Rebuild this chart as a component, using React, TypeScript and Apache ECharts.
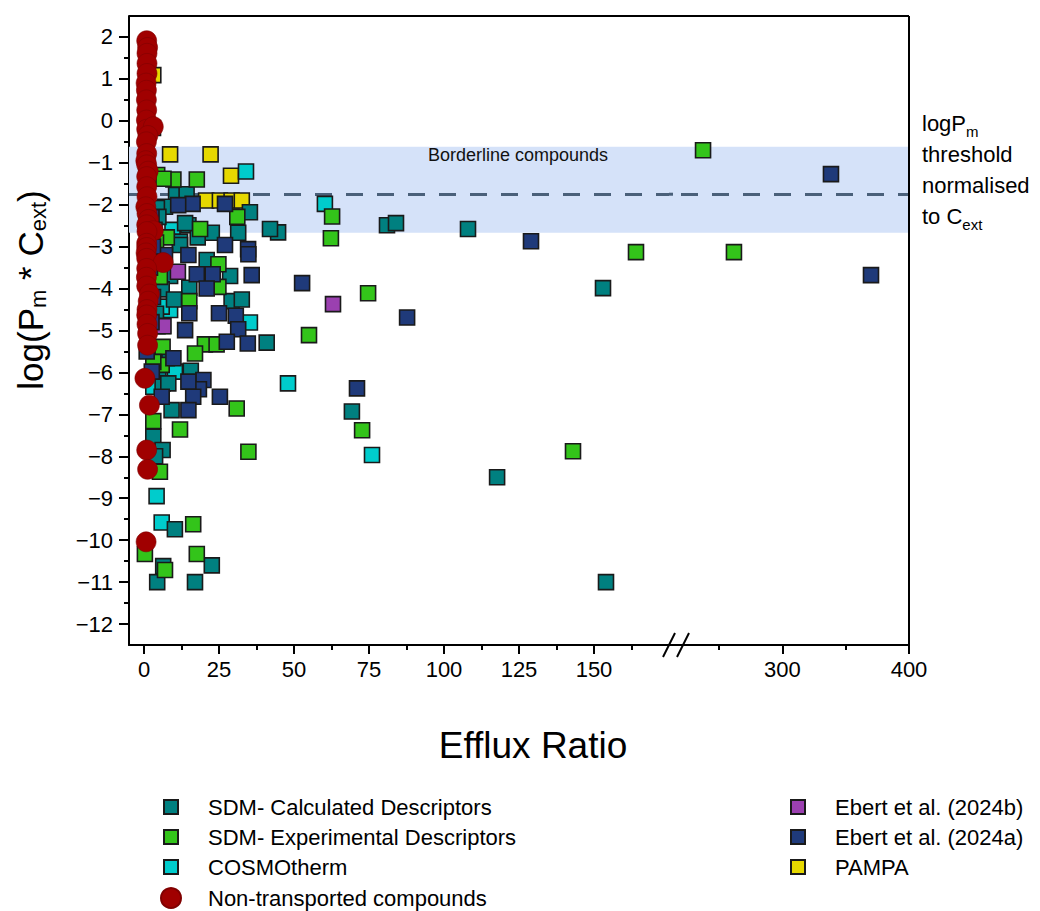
import React, { useEffect, useRef } from "react";
import * as echarts from "echarts";

const FONT = "'Liberation Sans', Arial, sans-serif";

// ---------- data: [efflux ratio, log(Pm*Cext)] ----------
const calcDescriptors: [number, number][] = [
  [153, -3.99], [154, -11.0], [117.7, -8.5], [108, -2.58], [81, -2.49], [84, -2.44], [69.3, -6.93],
  [44.7, -2.66], [42, -2.58], [10.7, -1.77], [14.2, -1.75], [7, -2.05], [35.3, -2.18], [14.8, -2.49],
  [22.6, -2.67], [31.4, -2.67], [12, -2.88], [17.9, -2.78], [4.3, -2.08], [4.8, -2.29], [13.7, -2.44],
  [12, -2.96], [20.9, -3.32], [28.7, -3.7], [8.7, -3.7], [15.1, -3.98], [5.9, -4.02], [10, -4.26],
  [29.2, -4.3], [32.6, -4.26], [40.9, -5.29], [7.6, -5.66], [15.6, -5.96], [4.8, -5.98], [6.2, -6.26],
  [8.1, -6.26], [9.2, -6.9], [3.1, -7.53], [6.2, -7.85], [3.7, -8.0], [10.3, -9.74], [22.6, -10.6],
  [6.4, -10.62], [4.4, -11.0], [17, -11.0], [3.5, -2.6], [3, -3.3], [4, -4.6], [3.5, -5.5],
];

const expDescriptors: [number, number][] = [
  [237.4, -0.7], [261.8, -3.13], [164, -3.13], [143, -7.88], [74.7, -4.11], [72.7, -7.38], [62.7, -2.28],
  [62.3, -2.8], [55, -5.11], [17.6, -1.4], [9.8, -1.4], [4.4, -1.29], [6.5, -1.38], [31.1, -2.29],
  [18.7, -2.58], [7.6, -2.78], [24.8, -3.42], [24.8, -3.96], [15.1, -4.3], [6.2, -4.89], [20.3, -5.33],
  [24.2, -5.33], [17, -5.55], [6.2, -5.39], [5.9, -5.82], [3.1, -5.75], [30.9, -6.86], [3.1, -7.16],
  [12, -7.36], [34.8, -7.89], [5.3, -8.37], [5.3, -3.72], [16.4, -9.62], [0.3, -10.33], [17.6, -10.33],
  [7, -10.71], [4, -2.9], [4.5, -4.9],
];

const cosmotherm: [number, number][] = [
  [34, -1.21], [60.3, -1.98], [9.5, -2.6], [8.7, -4.51], [5.9, -4.43], [35.3, -4.81], [10.3, -5.98],
  [3.1, -6.34], [48, -6.26], [76, -7.97], [4.2, -8.95], [5.9, -9.58],
];

const ebertB: [number, number][] = [
  [63, -4.37], [11.3, -3.6], [6.5, -4.9],
];

const ebertA: [number, number][] = [
  [338.4, -1.27], [370, -3.68], [129, -2.87], [87.7, -4.69], [71, -6.38], [52.7, -3.87], [27, -1.98],
  [16.2, -1.98], [11.4, -2.01], [27, -2.96], [34.7, -3.06], [34.8, -3.18], [35.9, -3.68], [17.6, -3.66],
  [22.9, -3.66], [20.9, -4.0], [15.1, -4.59], [25, -4.59], [30.6, -4.65], [31.4, -4.97], [13.7, -4.99],
  [27.6, -5.27], [34.6, -5.31], [2.6, -5.98], [19.8, -6.18], [18.3, -6.4], [16.4, -6.58], [25.3, -6.58],
  [5.9, -6.58], [14.8, -6.9], [14.8, -3.2], [7, -3.2], [0.9, -5.5], [9.8, -5.66], [14.8, -6.22],
  [2.5, -2.3], [3, -3.0], [2, -3.5], [3, -4.2], [2.5, -4.8],
];

const pampa: [number, number][] = [
  [8.7, -0.8], [22.2, -0.8], [29, -1.31], [3.1, 1.09], [3.0, -0.17], [20.7, -1.9], [25.3, -1.9],
  [29.2, -1.9], [32.6, -1.9],
];

const nonTransported: [number, number][] = [
  [0.9, 1.91], [1.2, 1.75], [1.0, 1.61], [1.0, 1.37], [1.0, 1.13], [0.7, 0.9], [0.8, 0.73], [0.8, 0.5],
  [0.9, 0.26], [0.8, 0.02], [0.9, -0.2], [3.1, -0.14], [1.3, -0.35], [0.8, -0.5], [0.9, -0.78],
  [0.6, -0.95], [0.9, -1.05], [1.4, -1.2], [0.9, -1.33], [0.9, -1.57], [1.0, -1.81], [0.6, -2.05],
  [1.0, -2.21], [1.5, -2.35], [0.9, -2.48], [3.1, -2.62], [1.0, -2.64], [0.9, -2.92], [0.9, -3.02],
  [0.7, -3.15], [0.9, -3.28], [6.4, -3.38], [0.9, -3.52], [0.8, -3.73], [0.9, -3.94], [1.8, -4.13],
  [1.4, -4.3], [1.0, -4.5], [0.9, -4.63], [1.0, -4.85], [1.2, -5.07], [1.2, -5.35], [0.3, -6.14],
  [1.8, -6.78], [0.9, -7.85], [1.2, -8.31], [0.7, -10.04],
];

// axis ticks
const xMajorLeft = [0, 25, 50, 75, 100, 125, 150];
const xMinorLeft = [12.5, 37.5, 62.5, 87.5, 112.5, 137.5, 162.5];
const xMajorRight = [300, 400];
const xMinorRight = [250, 350];
const yMajor = [-12, -11, -10, -9, -8, -7, -6, -5, -4, -3, -2, -1, 0, 1, 2];
const yMinor = [-11.5, -10.5, -9.5, -8.5, -7.5, -6.5, -5.5, -4.5, -3.5, -2.5, -1.5, -0.5, 0.5, 1.5];

const borderlineBand = [-0.62, -2.67];
const thresholdLine = -1.75;
const BREAK_AT = 200;

const seriesDefs = [
  { name: "PAMPA", data: pampa, color: "#e6d800", symbol: "rect", size: 15 },
  { name: "COSMOtherm", data: cosmotherm, color: "#00cccc", symbol: "rect", size: 15 },
  { name: "SDM- Calculated Descriptors", data: calcDescriptors, color: "#008080", symbol: "rect", size: 15 },
  { name: "SDM- Experimental Descriptors", data: expDescriptors, color: "#33c41a", symbol: "rect", size: 15 },
  { name: "Ebert et al. (2024b)", data: ebertB, color: "#9b40b0", symbol: "rect", size: 15 },
  { name: "Ebert et al. (2024a)", data: ebertA, color: "#1f3a7a", symbol: "rect", size: 15 },
  { name: "Non-transported compounds", data: nonTransported, color: "#a00000", symbol: "circle", size: 20 },
];

const minus = (v: number) => String(v).replace("-", "\u2212");

export default function App() {
  const ref = useRef<HTMLDivElement>(null);
  useEffect(() => {
    if (!ref.current) return;
    const chart = echarts.init(ref.current, undefined, { renderer: "svg" });

    const gL = { left: 129, top: 16, width: 540, height: 629 };
    const gR = { left: 681, top: 16, width: 228, height: 629 };

    const tickLabel = { fontSize: 22, color: "#000", fontFamily: FONT };

    const series: any[] = [];
    // background band + threshold line (drawn under markers)
    [0, 1].forEach((gi) => {
      series.push({
        type: "scatter",
        xAxisIndex: gi === 0 ? 0 : 2,
        yAxisIndex: gi === 0 ? 0 : 2,
        data: [],
        z: 1,
        silent: true,
        markArea: {
          silent: true,
          itemStyle: { color: "#d5e2f9", opacity: 1 },
          data: [[{ yAxis: borderlineBand[0] }, { yAxis: borderlineBand[1] }]],
        },
        markLine: {
          silent: true,
          symbol: "none",
          label: { show: false },
          lineStyle: { color: "#4a607a", width: 3, type: [17, 14], opacity: 1 },
          data: [{ yAxis: thresholdLine }],
        },
      });
    });

    seriesDefs.forEach((s, i) => {
      [0, 1].forEach((gi) => {
        series.push({
          name: s.name,
          type: "scatter",
          xAxisIndex: gi === 0 ? 0 : 2,
          yAxisIndex: gi === 0 ? 0 : 2,
          data: s.data.filter((d) => (gi === 0 ? d[0] < BREAK_AT : d[0] >= BREAK_AT)),
          symbol: s.symbol,
          symbolSize: s.size,
          z: 10 + i,
          itemStyle:
            s.symbol === "circle"
              ? { color: s.color, opacity: 1, borderColor: "#800000", borderWidth: 0.6 }
              : { color: s.color, opacity: 1, borderColor: "#1a1a1a", borderWidth: 1.6 },
        });
      });
    });

    const legendText = { fontSize: 22, lineHeight: 22, color: "#000", fontFamily: FONT };

    const option: any = {
      animation: false,
      backgroundColor: "#fff",
      grid: [
        { ...gL, outerBoundsMode: "none" },
        { ...gR, outerBoundsMode: "none" },
      ],
      xAxis: [
        {
          type: "value", gridIndex: 0, min: -5, max: 175,
          axisLine: { show: true, onZero: false, lineStyle: { color: "#000", width: 2 } },
          axisTick: { show: true, customValues: xMajorLeft, length: 9, lineStyle: { color: "#000", width: 2 } },
          axisLabel: { show: true, customValues: xMajorLeft, margin: 13, ...tickLabel },
          splitLine: { show: false },
        },
        {
          type: "value", gridIndex: 0, min: -5, max: 175, position: "bottom",
          axisLine: { show: false, onZero: false },
          axisTick: { show: true, customValues: xMinorLeft, length: 5, lineStyle: { color: "#000", width: 2 } },
          axisLabel: { show: false },
          splitLine: { show: false },
        },
        {
          type: "value", gridIndex: 1, min: 220, max: 400,
          axisLine: { show: true, onZero: false, lineStyle: { color: "#000", width: 2 } },
          axisTick: { show: true, customValues: xMajorRight, length: 9, lineStyle: { color: "#000", width: 2 } },
          axisLabel: { show: true, customValues: xMajorRight, margin: 13, ...tickLabel },
          splitLine: { show: false },
        },
        {
          type: "value", gridIndex: 1, min: 220, max: 400, position: "bottom",
          axisLine: { show: false, onZero: false },
          axisTick: { show: true, customValues: xMinorRight, length: 5, lineStyle: { color: "#000", width: 2 } },
          axisLabel: { show: false },
          splitLine: { show: false },
        },
      ],
      yAxis: [
        {
          type: "value", gridIndex: 0, min: -12.5, max: 2.5,
          axisLine: { show: true, onZero: false, lineStyle: { color: "#000", width: 2 } },
          axisTick: { show: true, customValues: yMajor, length: 10, lineStyle: { color: "#000", width: 2 } },
          axisLabel: { show: true, customValues: yMajor, margin: 16, formatter: minus, ...tickLabel },
          splitLine: { show: false },
        },
        {
          type: "value", gridIndex: 0, min: -12.5, max: 2.5, position: "left",
          axisLine: { show: false, onZero: false },
          axisTick: { show: true, customValues: yMinor, length: 5, lineStyle: { color: "#000", width: 2 } },
          axisLabel: { show: false },
          splitLine: { show: false },
        },
        {
          type: "value", gridIndex: 1, min: -12.5, max: 2.5, show: false,
          splitLine: { show: false },
        },
      ],
      legend: [
        {
          data: ["SDM- Calculated Descriptors", "SDM- Experimental Descriptors", "COSMOtherm"],
          orient: "vertical", left: 163, top: 796, padding: 0, itemGap: 8,
          itemWidth: 14, itemHeight: 14, icon: "rect", selectedMode: false,
          textStyle: { ...legendText, padding: [0, 0, 0, 25] },
        },
        {
          data: ["Non-transported compounds"],
          orient: "vertical", left: 160, top: 887, padding: 0,
          itemWidth: 20, itemHeight: 20, icon: "circle", selectedMode: false,
          textStyle: { ...legendText, padding: [0, 0, 0, 22] },
        },
        {
          data: ["Ebert et al. (2024b)", "Ebert et al. (2024a)", "PAMPA"],
          orient: "vertical", left: 790, top: 796, padding: 0, itemGap: 8,
          itemWidth: 14, itemHeight: 14, icon: "rect", selectedMode: false,
          textStyle: { ...legendText, padding: [0, 0, 0, 25] },
        },
      ],
      graphic: [
        // plot frame
        { id: "ftop", type: "line", z: 100, shape: { x1: 129, y1: 16, x2: 909, y2: 16 }, style: { stroke: "#000", lineWidth: 2 } },
        { id: "fright", type: "line", z: 100, shape: { x1: 909, y1: 16, x2: 909, y2: 645 }, style: { stroke: "#000", lineWidth: 2 } },
        { id: "fgap", type: "line", z: 100, shape: { x1: 669, y1: 645, x2: 681, y2: 645 }, style: { stroke: "#000", lineWidth: 2 } },
        // break marks
        { id: "br1", type: "line", z: 101, shape: { x1: 663, y1: 657, x2: 675, y2: 633 }, style: { stroke: "#000", lineWidth: 2 } },
        { id: "br2", type: "line", z: 101, shape: { x1: 677, y1: 657, x2: 689, y2: 633 }, style: { stroke: "#000", lineWidth: 2 } },
        {
          id: "bltext", type: "text", z: 50, left: 428, top: 146,
          style: { text: "Borderline compounds", fontSize: 18, fontFamily: FONT, fill: "#111" },
        },
        {
          id: "rtext", type: "text", z: 50, left: 922, top: 112,
          style: {
            text: "{a|logP}{s|m}\n{a|threshold}\n{a|normalised}\n{a|to C}{s|ext}",
            fontFamily: FONT, fill: "#000",
            rich: {
              a: { fontSize: 22, lineHeight: 31, fontFamily: FONT, fill: "#000" },
              s: { fontSize: 15, lineHeight: 31, fontFamily: FONT, fill: "#000", verticalAlign: "bottom", padding: [10, 0, 0, 0] },
            },
          },
        },
        {
          id: "xtitle", type: "text", z: 50, x: 533, y: 745,
          style: { text: "Efflux Ratio", fontSize: 37, fontFamily: FONT, fill: "#000", align: "center", verticalAlign: "middle" },
        },
        {
          id: "ytitle", type: "text", z: 50, x: 30, y: 290, rotation: Math.PI / 2,
          style: {
            text: "{a|log(P}{s|m}{a| * C}{s|ext}{a|)}",
            align: "center", verticalAlign: "middle", fontFamily: FONT, fill: "#000",
            rich: {
              a: { fontSize: 35, lineHeight: 42, fontFamily: FONT, fill: "#000" },
              s: { fontSize: 22, lineHeight: 42, fontFamily: FONT, fill: "#000", padding: [17, 0, 0, 0] },
            },
          },
        },
      ],
      series,
    };

    chart.setOption(option);

    // fill the axis-break gap so the band reads as continuous
    const yTop = chart.convertToPixel({ yAxisIndex: 0 }, borderlineBand[0]) as number;
    const yBot = chart.convertToPixel({ yAxisIndex: 0 }, borderlineBand[1]) as number;
    const yThr = chart.convertToPixel({ yAxisIndex: 0 }, thresholdLine) as number;
    const xGapL = chart.convertToPixel({ xAxisIndex: 0 }, 175) as number;
    const xGapR = chart.convertToPixel({ xAxisIndex: 2 }, 220) as number;
    chart.setOption({
      graphic: [
        {
          id: "gapband", type: "rect", z: 0, silent: true,
          shape: { x: xGapL, y: yTop, width: xGapR - xGapL, height: yBot - yTop },
          style: { fill: "#d5e2f9" },
        },
        {
          id: "gapline", type: "line", z: 0, silent: true,
          shape: { x1: xGapL, y1: yThr, x2: xGapL + 4, y2: yThr },
          style: { stroke: "#4a607a", lineWidth: 3 },
        },
      ],
    });

    return () => chart.dispose();
  }, []);

  return (
    <div
      ref={ref}
      style={{ position: "absolute", left: 0, top: 0, width: 1040, height: 911, background: "#fff" }}
    />
  );
}
